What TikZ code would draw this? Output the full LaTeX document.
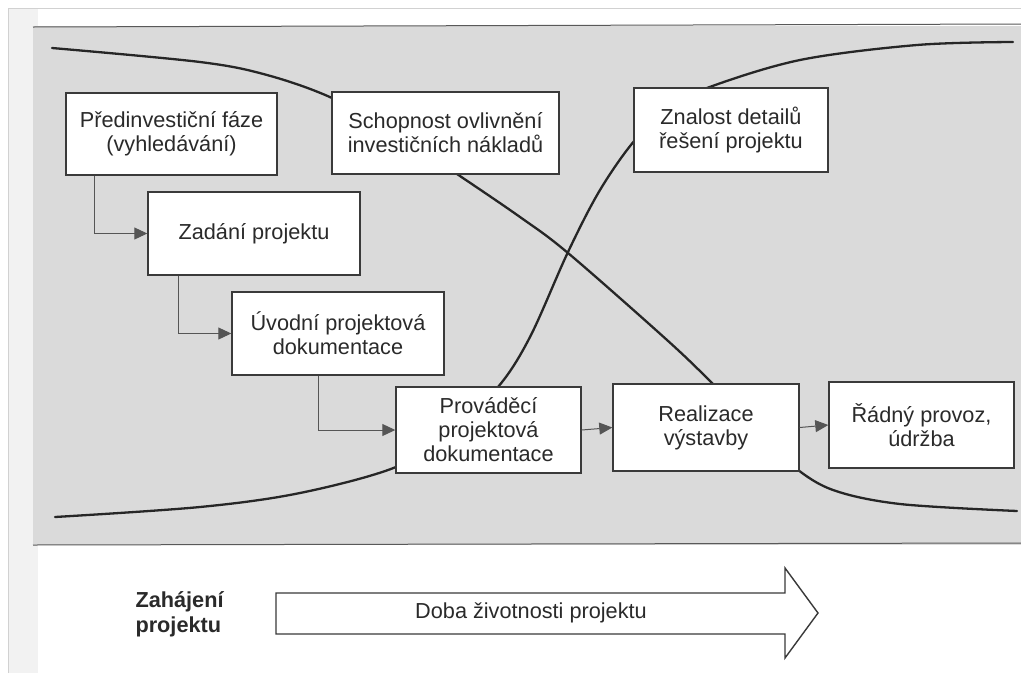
\documentclass[tikz,border=0pt]{standalone}
\usepackage{fontspec}
\setmainfont{Liberation Sans}
\usetikzlibrary{arrows.meta}
\definecolor{ink}{HTML}{2A2A2A}
\definecolor{edge}{HTML}{3A3A3A}
\definecolor{panel}{HTML}{DADADA}
\begin{document}
\begin{tikzpicture}[x=1pt,y=-1pt,
  phase/.style={draw=edge,line width=1.4pt,fill=white,text=ink,inner sep=0pt,align=center,
    font=\fontsize{21.7}{24}\selectfont},
  conn/.style={draw=ink!80,line width=1pt,-{Triangle[length=13pt,width=12pt]}},
  curve/.style={draw=black!85,line width=2.3pt,line cap=round}]
\useasboundingbox (0,0) rectangle (1021,673);
\fill[white] (0,0) rectangle (1021,673);
% scanned page edge
\fill[black!5] (8,8) rectangle (38,673);
\draw[black!18,line width=0.8pt] (8,673) -- (8,8) -- (1021,8);
% gray panel
\fill[panel] (33,26) rectangle (1021,545);
\draw[black!65,line width=1pt] (33,27) -- (1021,24);
\draw[black!65,line width=1pt] (33,545) -- (1021,543);
% curves
\draw[curve] plot[smooth,tension=0.55] coordinates {(52,48) (200,62) (267,75) (332,98) (400,136) (457,174) (520,217) (568,253) (667,340) (712,383) (760,432) (793,466) (833,490) (900,504) (1017,511)};
\draw[curve] plot[smooth,tension=0.55] coordinates {(55,517) (200,507) (300,493) (396,467) (450,432) (498,387) (530,337) (568,252) (600,190) (635,140) (670,108) (707,88) (800,60) (917,45) (1013,42)};
% boxes
\node[phase,minimum width=211pt,minimum height=82pt] (b1) at (171.5,134) {Předinvestiční fáze\\(vyhledávání)};
\node[phase,minimum width=212pt,minimum height=83pt] (b2) at (254,233.5) {Zadání projektu};
\node[phase,minimum width=212pt,minimum height=83pt] (b3) at (338,333.5) {Úvodní projektová\\dokumentace};
\node[phase,minimum width=185pt,minimum height=86pt] (b4) at (488.5,430) {Prováděcí\\projektová\\dokumentace};
\node[phase,minimum width=186pt,minimum height=87pt] (b5) at (706,427.5) {Realizace\\výstavby};
\node[phase,minimum width=185pt,minimum height=86pt] (b6) at (921.5,425) {Řádný provoz,\\údržba};
\node[phase,minimum width=227pt,minimum height=82pt] (b7) at (445.5,133) {Schopnost ovlivnění\\investičních nákladů};
\node[phase,minimum width=194pt,minimum height=84pt] (b8) at (731,130) {Znalost detailů\\řešení projektu};
% connectors
\draw[conn] ([xshift=29pt]b1.south west) |- (b2.west);
\draw[conn] ([xshift=31pt]b2.south west) |- (b3.west);
\draw[conn] ([xshift=87pt]b3.south west) |- (b4.west);
\draw[conn] (b4.east) -- (b5.west);
\draw[conn] (b5.east) -- (b6.west);
% bottom: time arrow
\node[text=ink,align=left,anchor=west,font=\fontsize{21.7}{25}\selectfont\bfseries] (start) at (132,614) {Zahájení\\projektu};
\coordinate (tl) at (276,593);
\coordinate (tip) at (818,613);
\draw[draw=edge,line width=1.4pt,fill=white,line join=miter] (tl) -- (785,593) -- (785,568) -- (tip) -- (785,658) -- (785,634) -- (276,634) -- cycle;
\node[text=ink,font=\fontsize{21.7}{24}\selectfont] (life) at (531,613) {Doba životnosti projektu};
\end{tikzpicture}
\end{document}
